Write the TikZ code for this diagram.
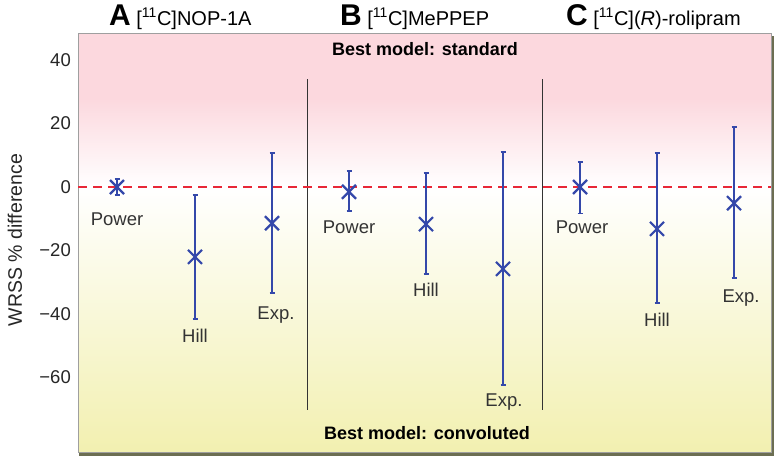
\documentclass[tikz,border=0pt]{standalone}
\usepackage{fontspec}
\setmainfont{Liberation Sans}
\usetikzlibrary{calc}
\definecolor{pinkbg}{RGB}{252,216,222}
\definecolor{yellowbg}{RGB}{242,240,176}
\definecolor{barblue}{RGB}{52,72,170}
\definecolor{zerored}{RGB}{232,40,56}
\definecolor{frameshadow}{RGB}{108,110,82}

\begin{document}
\begin{tikzpicture}[x=1pt,y=3.175pt,
  errbar/.style={barblue,line width=2.2pt},
  endcap/.style={barblue,line width=1.6pt},
  cross/.style={barblue,line width=2.2pt},
  modlabel/.style={font=\fontsize{18.5}{20}\selectfont,text=black!80,inner sep=0pt},
  ticklabel/.style={anchor=east,font=\fontsize{18.5}{20}\selectfont,text=black!85,inner sep=0pt},
  bestlabel/.style={font=\bfseries\fontsize{18}{20}\selectfont,inner sep=0pt},
  panetitle/.style={anchor=base west,font=\fontsize{20}{22}\selectfont,inner sep=0pt}]

\useasboundingbox (0,-84.72) rectangle (775,58.9);

% background bands
\fill[pinkbg] (78,48.5) rectangle (771,28);
\shade[top color=pinkbg, bottom color=white] (78,28) rectangle (771,0);
\shade[top color=white, bottom color=yellowbg] (78,0) rectangle (771,-83.6);
\draw[frameshadow,line width=2.5pt] (79,-84.3) -- (773,-84.3) -- (773,47.5);
\draw[gray!75,line width=0.8pt] (78,-83.6) rectangle (771,48.5);

% panel separators
\draw[black!80,line width=1pt] (307,34) -- (307,-70.2);
\draw[black!80,line width=1pt] (542,34) -- (542,-70.2);

% zero line
\draw[zerored,line width=2.4pt,dash pattern=on 9pt off 6pt] (78,0) -- (771,0);

% y axis
\foreach \v/\t in {40/40,20/20,0/0,-20/−20,-40/−40,-60/−60}
  \node[ticklabel] (tick\v) at (71,\v) {\t};
\node[rotate=90,font=\fontsize{19.5}{21}\selectfont,text=black!85] (ylab) at (15,-16.7) {WRSS \% difference};

% titles
\node[panetitle] (titleA) at (109,51) {{\bfseries\fontsize{30}{32}\selectfont A} [\textsuperscript{11}C]NOP-1A};
\node[panetitle] (titleB) at (340,51) {{\bfseries\fontsize{30}{32}\selectfont B} [\textsuperscript{11}C]MePPEP};
\node[panetitle] (titleC) at (566,51) {{\bfseries\fontsize{30}{32}\selectfont C} [\textsuperscript{11}C](\textit{R})-rolipram};

\node[bestlabel] (bestStd) at (425,43.5) {Best model: standard};
\node[bestlabel] (bestConv) at (427,-77.5) {Best model: convoluted};

% error bars: x / estimate / low / high / label / label x / label y
\foreach \px/\val/\lo/\hi/\lab/\lx/\ly [count=\i] in {
    117/0/-2.5/2.5/Power/117/-10.1,
    195/-22/-41.6/-2.5/Hill/195/-46.9,
    272/-11.4/-33.4/10.7/Exp./276/-40.3,
    349/-1.5/-7.6/5/Power/349/-12.6,
    426/-11.7/-27.4/4.4/Hill/426/-32.4,
    503/-25.8/-62.4/11/Exp./504/-67.7,
    580/0/-8.3/7.9/Power/582/-12.6,
    657/-13.2/-36.5/10.7/Hill/657/-41.9,
    734/-5.1/-28.7/18.9/Exp./741/-35}{
  \coordinate (lo\i) at (\px,\lo);
  \coordinate (hi\i) at (\px,\hi);
  \coordinate (est\i) at (\px,\val);
  \draw[errbar] (lo\i) -- (hi\i);
  \draw[endcap] ($(lo\i)+(-2.5pt,0)$) -- ($(lo\i)+(2.5pt,0)$);
  \draw[endcap] ($(hi\i)+(-2.5pt,0)$) -- ($(hi\i)+(2.5pt,0)$);
  \draw[cross] ($(est\i)+(-7pt,-7pt)$) -- ($(est\i)+(7pt,7pt)$);
  \draw[cross] ($(est\i)+(-7pt,7pt)$) -- ($(est\i)+(7pt,-7pt)$);
  \node[modlabel] (lab\i) at (\lx,\ly) {\lab};
}
\end{tikzpicture}
\end{document}
